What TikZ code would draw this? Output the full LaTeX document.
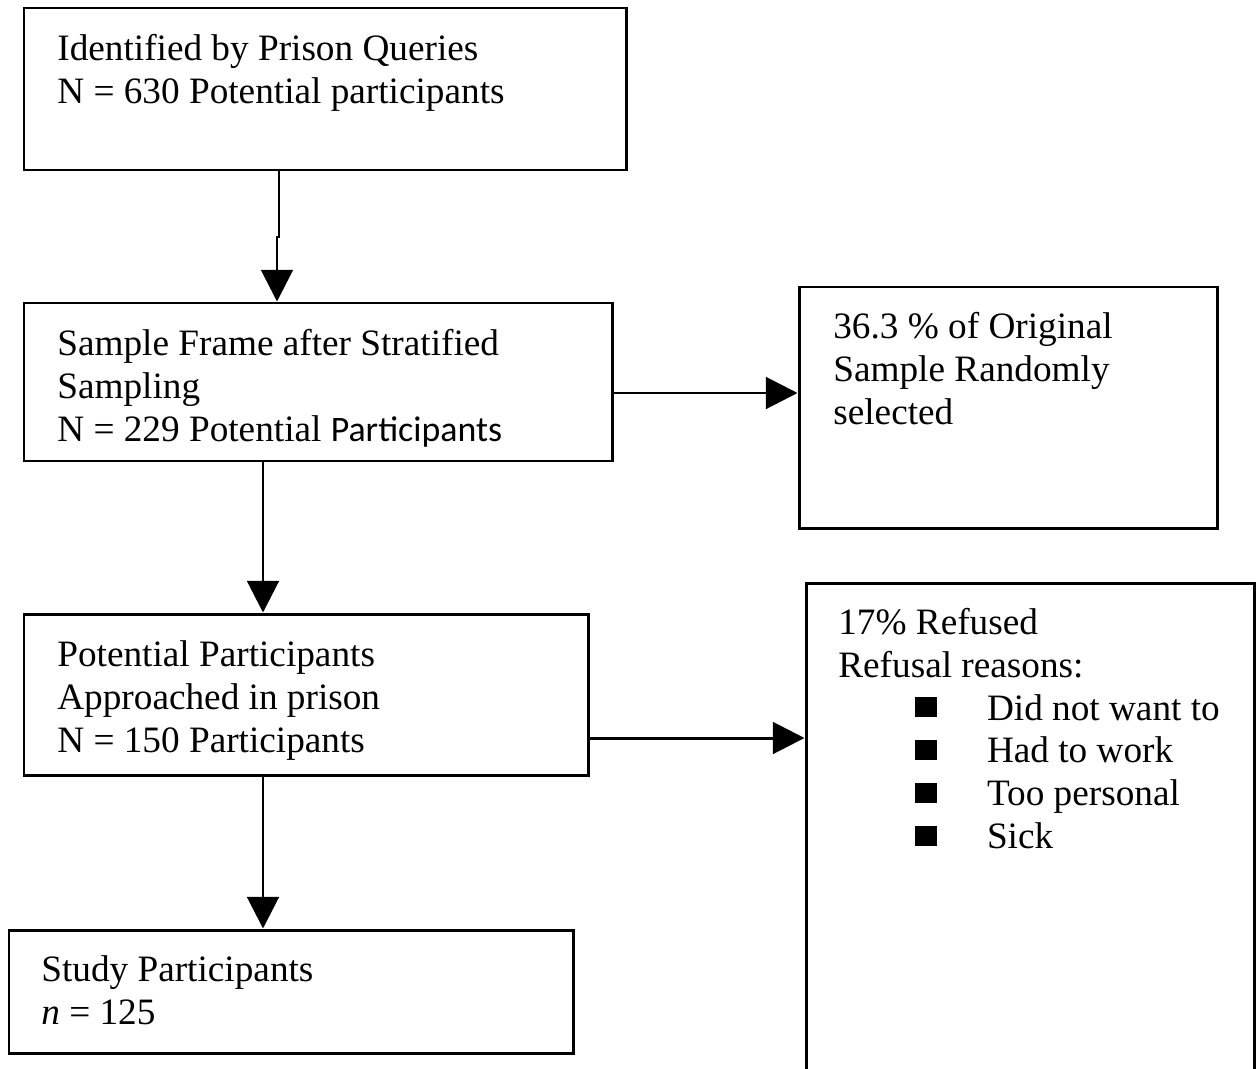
\documentclass[tikz,border=0pt]{standalone}
\usepackage{fontspec}
\setmainfont{Liberation Serif}
\newfontfamily\carlito{Carlito}
\usetikzlibrary{arrows.meta,fit}
\newcommand\sqb{\hspace*{43.4pt}\raisebox{1.7pt}{\rule{12.5pt}{11.3pt}}\hspace*{28.7pt}}
\begin{document}
\begin{tikzpicture}[x=0.02cm,y=-0.02cm,
  box/.style={draw, line width=1.7pt, inner sep=0pt, rectangle},
  txt/.style={anchor=north west, inner sep=0pt, align=left, font=\fontsize{21.2}{24.4}\selectfont},
  arr/.style={line width=1.7pt, -{Triangle[width=18pt,length=18pt]}}]
\clip (0,0) rectangle (1260,1068);
\fill[white] (0,0) rectangle (1260,1068);
% boxes
\node[box, fit={(24,8) (626,170)}] (A) {};
\node[box, fit={(24,303) (612,461)}] (B) {};
\node[box, fit={(799,287) (1217,528)}] (C) {};
\node[box, fit={(24,614) (588,775)}] (D) {};
\node[box, fit={(806,583) (1254,1080)}] (E) {};
\node[box, fit={(9,930) (573,1053)}] (F) {};
% texts (first baseline - 30.1)
\node[txt] (At) at (57,30) {\strut Identified by Prison Queries\\\strut N = 630 Potential participants};
\node[txt] (Bt) at (57,325) {\strut Sample Frame after Stratified\\\strut Sampling\\\strut N = 229 Potential {\carlito\fontsize{20.4}{24.4}\selectfont Participants}};
\node[txt] (Ct) at (833,308) {\strut 36.3 \% of Original\\\strut Sample Randomly\\\strut selected};
\node[txt] (Dt) at (57,636) {\strut Potential Participants\\\strut Approached in prison\\\strut N = 150 Participants};
\node[txt] (Et) at (838,604) {\strut 17\% Refused\\\strut Refusal reasons:\\\strut\sqb Did not want to\\\strut\sqb Had to work\\\strut\sqb Too personal\\\strut\sqb Sick};
\node[txt] (Ft) at (41,951) {\strut Study Participants\\\strut \textit{n} = 125};
% connectors
\coordinate (ab1) at (279,237);
\coordinate (ab2) at (277,237);
\draw[arr] (ab1 |- A.south) -- (ab1) -- (ab2) -- (ab2 |- B.north);
\coordinate (bc) at (700,393);
\draw[arr] (B.east |- bc) -- (C.west |- bc);
\coordinate (bd) at (263,540);
\draw[arr] (bd |- B.south) -- (bd |- D.north);
\coordinate (de) at (700,738);
\draw[arr] (D.east |- de) -- (E.west |- de);
\coordinate (df) at (263,850);
\draw[arr] (df |- D.south) -- (df |- F.north);
\end{tikzpicture}
\end{document}
